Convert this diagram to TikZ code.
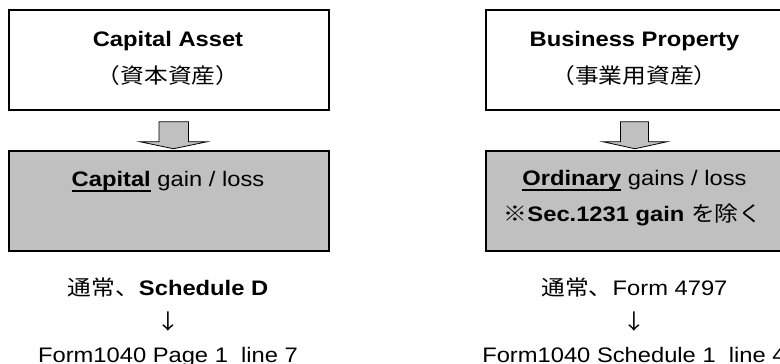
\documentclass[tikz,border=0pt]{standalone}
\usepackage{fontspec}
\setmainfont{Liberation Sans}[FakeStretch=1.13]
\newfontfamily\jp{Noto Sans CJK JP}[FakeStretch=1.13]
\definecolor{boxgray}{HTML}{C0C0C0}
\newcommand\myul[1]{\setbox0=\hbox{#1}\leavevmode\rlap{\rule[\dimexpr-\dp0-1.8pt\relax]{\wd0}{1.8pt}}\box0\relax}
\begin{document}
\begin{tikzpicture}[x=1pt,y=-1pt,
  box/.style={draw=black, line width=1.5pt, inner sep=0pt, minimum width=320pt, minimum height=100pt},
  gbox/.style={box, fill=boxgray},
  txt/.style={inner sep=0pt, anchor=base, font=\fontsize{21}{25}\selectfont},
  bigarrow/.style={draw=black, line width=0.8pt, fill=boxgray, line join=miter}]
\useasboundingbox (0,0) rectangle (780,364);
\clip (0,0) rectangle (780,364);

% left column
\node[box] (capA) at (169,60) {};
\node[gbox] (capG) at (169,201) {};
\node[txt] (capAt) at (168,46.7) {\textbf{Capital Asset}};
\node[txt] (capAj) at (168,83) {\jp （資本資産）};
\node[txt] (capGt) at (168,186) {\myul{\textbf{Capital}} gain / loss};
\node[txt] (schD) at (168,295) {{\jp 通常、}\textbf{Schedule D}};
\node[txt, anchor=center] (arrL) at (168,322) {\jp ↓};
\node[txt] (formL) at (168,362) {Form1040 Page 1\ \ line 7};

% right column
\node[box, minimum width=297pt] (busP) at (634.5,60) {};
\node[gbox, minimum width=297pt] (ordG) at (634.5,201) {};
\node[txt] (busPt) at (634.5,46.7) {\textbf{Business Property}};
\node[txt] (busPj) at (634.5,83) {\jp （事業用資産）};
\node[txt] (ordGt) at (634.5,185) {\myul{\textbf{Ordinary}} gains / loss};
\node[txt] (secT) at (633,221.7) {{\jp ※}\textbf{Sec.1231 gain} {\jp を除く}};
\node[txt] (f4797) at (634.5,295) {{\jp 通常、}Form 4797};
\node[txt, anchor=center] (arrR) at (634.5,322) {\jp ↓};
\node[txt] (formR) at (634,362) {Form1040 Schedule 1\ \ line 4};

% block arrows
\begin{scope}[shift={(capA.south)}]
  \draw[bigarrow] (-10,11) -- (19.5,11) -- (19.5,31) -- (38,31) -- (4.5,38) -- (-29,31) -- (-10,31) -- cycle;
\end{scope}
\begin{scope}[shift={(busP.south)}]
  \draw[bigarrow] (-14,11) -- (14,11) -- (14,31) -- (32.5,31) -- (0.5,38) -- (-31.5,31) -- (-14,31) -- cycle;
\end{scope}
\end{tikzpicture}
\end{document}
